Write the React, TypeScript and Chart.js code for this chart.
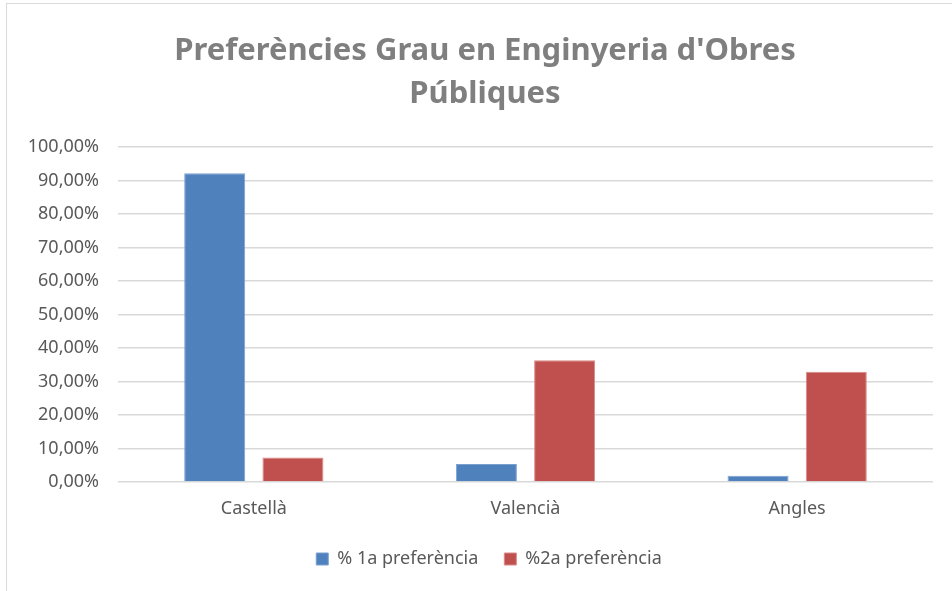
import React, { useEffect, useRef } from "react";
import { Chart, registerables } from "chart.js";

Chart.register(...registerables);

const categories = ["Castellà", "Valencià", "Angles"];
const firstPref = [92.2, 5.4, 1.9];
const secondPref = [7.3, 36.4, 32.9];
const seriesNames = ["% 1a preferència", "%2a preferència"];
const titleLines = ["Preferències Grau en Enginyeria d'Obres", "Públiques"];

const FONT = "'Noto Sans', 'Open Sans', sans-serif";

const shiftBlocks = {
  id: "shiftBlocks",
  afterLayout(chart: any) {
    const l = chart.legend;
    if (l) {
      l.left += 19;
      l.right += 19;
    }
    const t = chart.titleBlock;
    if (t) {
      t.left += 15;
      t.right += 15;
    }
  },
};

export default function App() {
  const ref = useRef<HTMLCanvasElement | null>(null);

  useEffect(() => {
    if (!ref.current) return;
    const chart = new Chart(ref.current, {
      type: "bar",
      plugins: [shiftBlocks],
      data: {
        labels: categories,
        datasets: [
          {
            label: seriesNames[0],
            data: firstPref,
            backgroundColor: "#4f81bd",
            borderColor: "#7aa0d0",
            borderWidth: 1,
            categoryPercentage: 0.576,
            barPercentage: 0.78,
          },
          {
            label: seriesNames[1],
            data: secondPref,
            backgroundColor: "#c0504d",
            borderColor: "#d98a88",
            borderWidth: 1,
            categoryPercentage: 0.576,
            barPercentage: 0.78,
          },
        ],
      },
      options: {
        animation: false,
        responsive: false,
        layout: { padding: { top: 26, right: 19, bottom: 13, left: 0 } },
        plugins: {
          title: {
            display: true,
            text: titleLines,
            color: "#7f7f7f",
            font: { family: FONT, size: 31, weight: "bold", lineHeight: 1.39 },
            padding: { top: 0, bottom: 31 },
          },
          legend: {
            position: "bottom",
            labels: {
              color: "#595959",
              font: { family: FONT, size: 18 },
              boxWidth: 12,
              boxHeight: 12,
              padding: 26,
            },
          },
          tooltip: { enabled: false },
        },
        scales: {
          x: {
            grid: { display: false },
            border: { display: false },
            ticks: {
              color: "#595959",
              font: { family: FONT, size: 18 },
              padding: 8,
            },
            afterFit: (scale: any) => {
              scale.height = 42;
            },
          },
          y: {
            min: 0,
            max: 100,
            ticks: {
              stepSize: 10,
              color: "#595959",
              font: { family: FONT, size: 18 },
              padding: 19,
              callback: (v: any) => Number(v).toFixed(2).replace(".", ",") + "%",
            },
            grid: { color: "#d9d9d9", lineWidth: 1.5, drawTicks: false },
            border: { display: false },
            afterFit: (scale: any) => {
              scale.width = 111;
            },
          },
        },
      },
    });
    return () => chart.destroy();
  }, []);

  return (
    <div
      style={{
        position: "absolute",
        left: 6,
        top: 3,
        width: 960,
        height: 600,
        borderLeft: "1px solid #d9d9d9",
        borderTop: "1px solid #d9d9d9",
        background: "#fff",
      }}
    >
      <canvas ref={ref} width={945} height={587} style={{ display: "block" }} />
    </div>
  );
}
